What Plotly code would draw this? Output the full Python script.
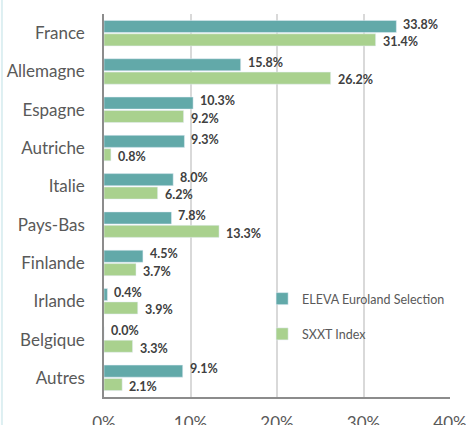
import plotly.graph_objects as go

categories = ["France", "Allemagne", "Espagne", "Autriche", "Italie", "Pays-Bas",
              "Finlande", "Irlande", "Belgique", "Autres"]
eleva = [33.8, 15.8, 10.3, 9.3, 8.0, 7.8, 4.5, 0.4, 0.0, 9.1]
sxxt = [31.4, 26.2, 9.2, 0.8, 6.2, 13.3, 3.7, 3.9, 3.3, 2.1]
tick_vals = [0, 10, 20, 30, 40]
tick_text = ["0%", "10%", "20%", "30%", "40%"]

FONT = "Lato, 'Open Sans', sans-serif"
label_font = dict(family=FONT, size=12.5, color="#404040", weight="bold")

fig = go.Figure()
fig.add_trace(go.Bar(
    y=categories, x=eleva, orientation="h", name="ELEVA Euroland Selection",
    marker=dict(color="#62A9A9"), legendgroup="a",
))
fig.add_trace(go.Bar(
    y=categories, x=sxxt, orientation="h", name="SXXT Index",
    marker=dict(color="#A9D18E"), legendgroup="b",
))

# value labels next to each bar end
for cat, v in zip(categories, eleva):
    fig.add_annotation(x=v, y=cat, text=f"{v:.1f}%", showarrow=False,
                       xanchor="left", yanchor="middle", xshift=5, yshift=9,
                       font=label_font)
for cat, v in zip(categories, sxxt):
    fig.add_annotation(x=v, y=cat, text=f"{v:.1f}%", showarrow=False,
                       xanchor="left", yanchor="middle", xshift=5, yshift=-8.5,
                       font=label_font)

fig.update_layout(
    width=466, height=425,
    margin=dict(l=104, r=16, t=14, b=28),
    paper_bgcolor="white", plot_bgcolor="white",
    barmode="group", bargap=0.3, bargroupgap=0.1,
    font=dict(family=FONT, color="#595959"),
    showlegend=True,
    legend=dict(x=0.457, y=0.295, xanchor="left", yanchor="top",
                font=dict(family=FONT, size=12.5, color="#595959"),
                bgcolor="rgba(0,0,0,0)", traceorder="grouped",
                tracegroupgap=16, itemwidth=30),
    xaxis=dict(range=[0, 40], tickvals=tick_vals, ticktext=tick_text,
               showgrid=True, gridcolor="#D9D9D9", gridwidth=1.5,
               showline=True, linecolor="#8C8C8C", linewidth=1.5,
               zeroline=False, ticks="", ticklabelstandoff=10, automargin=False,
               ticklabeloverflow="allow",
               tickfont=dict(family=FONT, size=17, color="#595959")),
    yaxis=dict(autorange="reversed", showline=True, linecolor="#8C8C8C",
               linewidth=1.5, showgrid=False, ticks="", ticklabelstandoff=14,
               automargin=False,
               tickfont=dict(family=FONT, size=17, color="#595959")),
)
fig.add_shape(type="line", xref="paper", yref="paper", x0=-0.295, x1=-0.295,
              y0=-0.2, y1=1.2, line=dict(color="#DDEFF2", width=2))

fig.write_html("out.html", config={"displayModeBar": False},
               post_script="document.body.style.margin='0';document.body.style.overflow='hidden';")
